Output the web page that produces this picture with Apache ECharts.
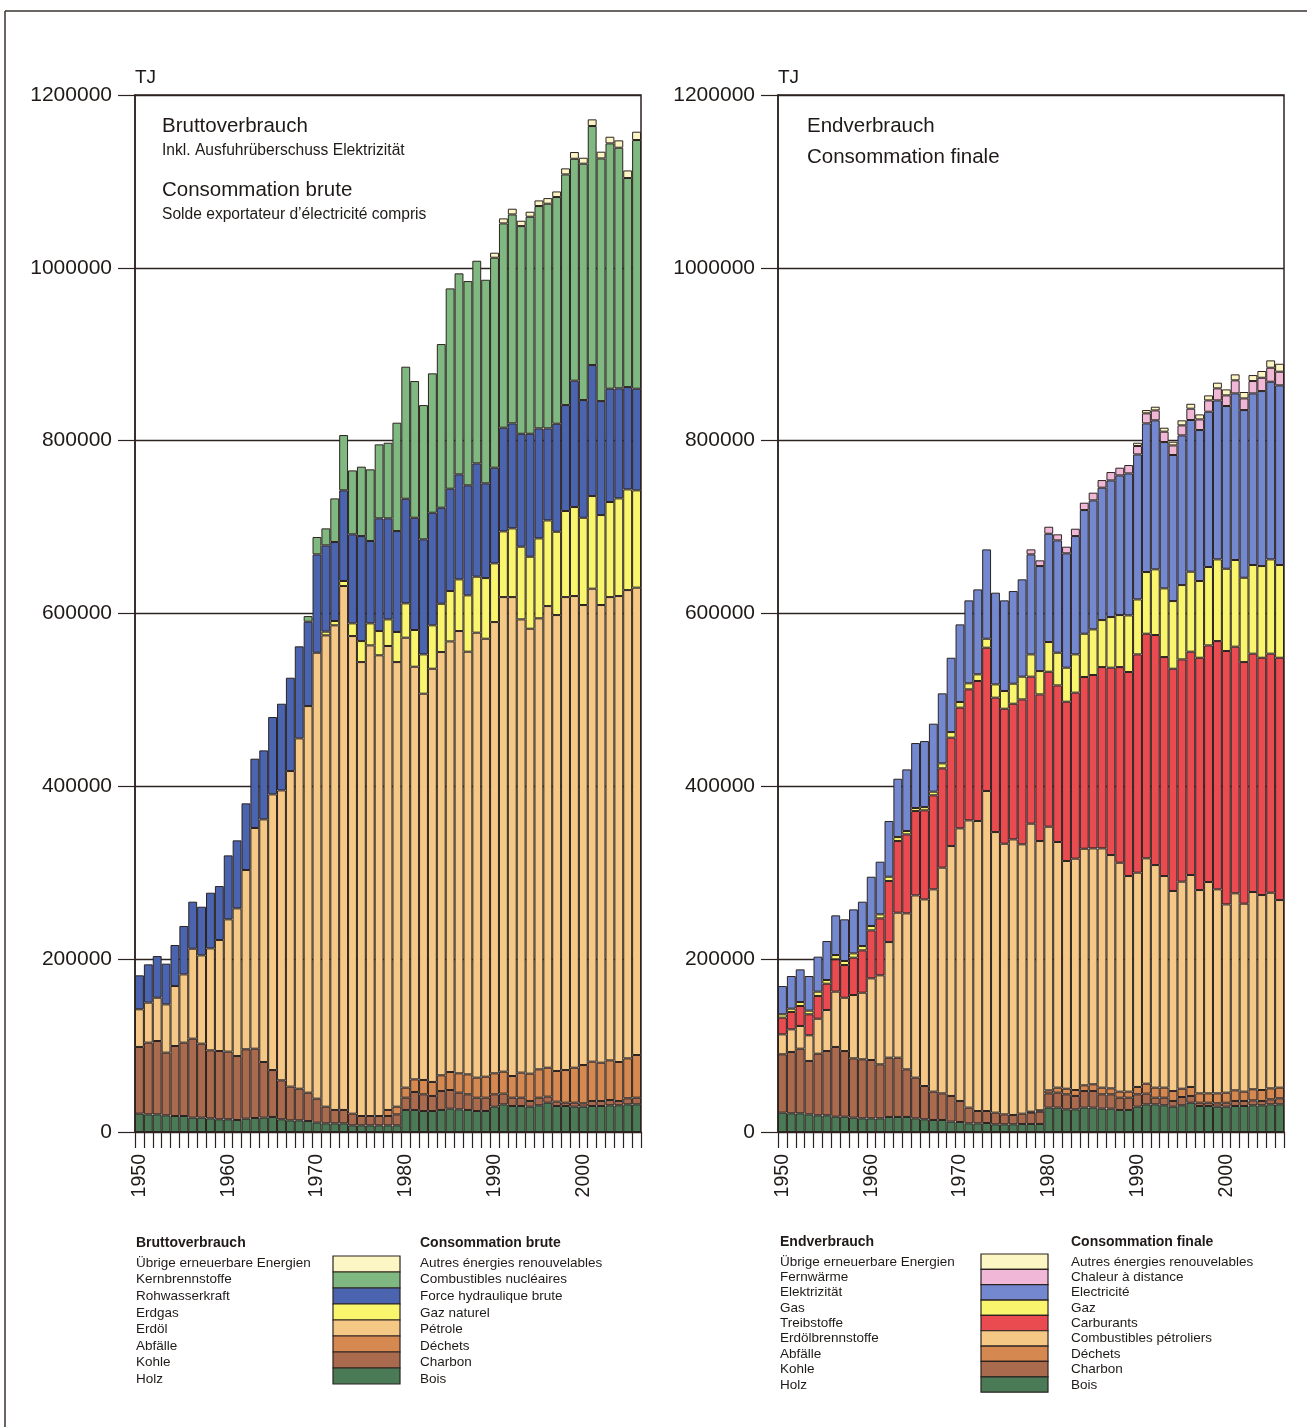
<!DOCTYPE html>
<html>
<head>
<meta charset="utf-8">
<script src="https://cdn.jsdelivr.net/npm/echarts/dist/echarts.min.js"></script>
<style>
  html, body { margin: 0; padding: 0; background: #fff; }
  #chart { width: 1307px; height: 1427px; }
</style>
</head>
<body>
<div id="chart"></div>
<script>
// Jahre 1950 - 2006
const years = [];
for (let y = 1950; y <= 2006; y++) years.push(String(y));

// --- Bruttoverbrauch (TJ), von unten nach oben ---
const holzL = [21200,20400,20400,19300,18500,18500,16600,16600,15800,14700,
  14700,13900,15400,16200,16600,17400,14700,13500,13500,12700,
  10800,10000,10000,10000,7700,7700,7700,7700,7700,7700,
  25500,25500,24300,24300,25500,27000,26200,25500,24300,24300,
  29300,32000,30100,30100,29300,30900,33900,30100,30100,29300,
  29300,30100,30100,30900,30900,32000,32000];
const kohleL = [77200,83000,84900,72500,81000,84900,91400,85600,78700,79000,
  78300,74000,80300,80200,64400,54300,45100,39000,36600,32800,
  27800,19300,15500,15500,13500,10800,10800,10800,10800,12700,
  14200,20800,19300,17400,21900,21600,19300,18100,15400,15400,
  14300,12400,9600,9600,6600,8800,7000,5000,3800,4600,
  3900,5800,5800,6100,5000,7000,7700];
const abfaelleL = [0,0,0,0,0,0,0,0,0,0,
  0,0,0,0,0,0,0,0,0,0,
  0,0,0,0,0,0,0,0,7000,8900,
  11600,14600,16600,16200,18200,20800,22400,23100,23200,24300,
  24300,25400,25100,29000,31600,32800,33500,35500,37800,40500,
  44300,45500,44300,45900,45100,46200,49400];
const erdoelL = [43600,46300,50100,55900,69400,79000,104100,102200,118000,128500,
  153100,170900,207500,255400,280800,319000,335500,365200,405400,447400,
  516000,545400,560800,606300,552700,525300,544600,533100,536900,514500,
  520700,477500,447000,478200,489800,498300,511800,489100,514900,506800,
  522200,549200,554200,524500,514900,521900,534200,527600,547300,545800,
  532300,547300,529600,536100,539200,541900,540800];
const erdgasL = [0,0,0,0,0,0,0,0,0,0,
  0,0,0,0,0,0,0,0,0,0,
  0,4300,5000,5800,14700,24300,25500,28100,30800,34800,
  39700,42500,45500,50200,55900,58300,59800,65200,64800,70200,
  67900,76000,79500,84100,83300,92500,99100,96400,99600,103000,
  101000,107200,104100,110000,113000,116500,112600];
const wasserL = [39300,44300,48200,47100,47500,56000,54400,56300,64400,62400,
  74000,78700,77100,80200,79800,89500,100300,108000,106500,97600,
  113800,99800,91400,104900,103000,121500,95300,130400,116900,116800,
  121100,129900,133100,130300,111100,118400,121500,127300,131100,109600,
  110700,120000,121500,130700,142300,127300,106500,125000,122600,146200,
  136200,151600,131900,131100,127300,118400,117600];
const kernL = [0,0,0,0,0,0,0,0,0,0,
  0,0,0,0,0,0,0,0,0,6500,
  20100,19700,50500,64000,74000,80300,82900,85600,87500,125400,
  152800,158200,155400,161300,189400,231800,232600,236400,234500,235600,
  243000,236400,241800,240300,251100,257300,260000,262300,266900,256800,
  273500,276600,280800,283900,278500,241900,287800];
const uebrigeL = [0,0,0,0,0,0,0,0,0,0,
  0,0,0,0,0,0,0,0,0,0,
  0,0,0,0,0,0,0,0,0,0,
  0,0,0,0,0,0,0,0,0,0,
  5800,5800,6600,6200,5800,6500,6500,6500,7000,7800,
  6900,7700,7800,7700,8500,8800,9600];

// --- Endverbrauch (TJ), von unten nach oben ---
const holzR = [22400,21600,21600,20400,19300,19300,17700,17700,16600,15800,
  15800,15800,17400,17400,17400,15800,14700,13900,13900,12000,
  11600,10000,10000,10400,8900,8900,8900,9300,9300,9300,
  28200,28200,26200,26200,28200,28200,27000,27000,25500,25500,
  29300,32000,32000,30900,29300,30900,33900,30100,30100,29300,
  29300,30100,30100,30900,30900,32000,32000];
const kohleR = [67500,71000,74800,61800,71300,74400,80700,76000,68600,68300,
  67500,62500,68600,68600,55100,47100,38500,32800,30800,29700,
  24300,18200,14300,13900,13500,11500,10800,11900,13100,14200,
  16500,17300,17400,15500,19200,19200,16600,16600,14200,14200,
  14300,12400,7700,8800,6600,9600,7800,3800,3800,3900,
  4600,5800,5800,5700,5000,5800,7000];
const abfaelleR = [0,0,0,0,0,0,0,0,0,0,
  0,0,0,0,0,0,0,0,0,0,
  0,0,0,0,0,0,0,0,1100,1600,
  3500,5800,6500,6900,6600,7800,7700,6900,7000,7000,
  8500,11500,11600,11600,11500,9600,10400,10800,10800,11500,
  11600,12300,10800,12800,12700,12700,12300];
const erdoelR = [23100,26200,26300,29700,40500,47500,64000,61700,73300,77100,
  94500,103000,133800,167800,180500,210900,216000,234100,261200,289200,
  315500,332400,335600,370300,324700,313200,318900,311700,333300,311600,
  305100,284300,263500,267700,273800,273000,276900,270000,264900,249500,
  248000,260800,257600,244900,231500,239600,245300,235300,244600,236100,
  217900,228000,217500,228300,225600,226400,217100];
const treibR = [19300,20100,23100,24300,26300,30400,37400,37800,43200,49000,
  55500,65900,70600,82900,91400,97600,103000,108800,114900,125400,
  139600,151600,162000,165800,155500,156200,157000,167700,170100,169700,
  179300,181200,184300,192100,198700,200600,209800,216800,226400,236100,
  252600,259900,266200,253400,257200,257200,258400,268800,273800,287300,
  293200,285400,279600,275800,274600,276600,280400];
const gasR = [3900,3800,4600,4200,5000,4300,5000,4700,5000,5000,
  5100,4700,5000,4600,3900,3500,3800,4200,5800,6500,
  6600,7000,7700,10400,15400,20500,23200,26300,25800,27000,
  34400,37800,39400,44300,50100,52800,54400,58600,60200,65500,
  63600,71400,76000,79500,78300,86000,92600,88800,90700,94500,
  95200,100300,97600,102600,106100,109100,107300];
const elekR = [32700,37800,37800,40100,40500,45100,45900,48200,50900,51300,
  57000,60900,64500,67500,71300,75200,76400,78700,81000,86000,
  89800,96000,98300,103400,106100,104900,107200,112600,115700,121500,
  125300,130000,132300,136900,143100,149300,153200,158100,161600,164300,
  167800,172000,172400,169300,169000,173200,175500,174700,179700,184000,
  188300,192800,194000,198600,202500,205600,207900];
const fernR = [0,0,0,0,0,0,0,0,0,0,
  0,0,0,0,0,0,0,0,0,0,
  0,0,0,0,0,0,0,0,5800,6600,
  8100,7000,7700,8500,8500,8900,8800,9700,8900,9700,
  9700,11600,11500,12000,11100,11600,13100,12300,13100,13900,
  12300,15100,13500,14300,15400,16200,15800];
const uebrigeR = [0,0,0,0,0,0,0,0,0,0,
  0,0,0,0,0,0,0,0,0,0,
  0,0,0,0,0,0,0,0,0,0,
  0,0,0,0,0,0,0,0,0,0,
  3800,3800,4300,4600,4300,5800,5700,5800,5800,6600,
  6900,6900,7400,6900,7800,8500,9200];

const INK = '#2c2320';
const FONT = "'Liberation Sans', Arial, sans-serif";

const listL = [
  { de: 'Holz', fr: 'Bois', data: holzL, color: '#4b7a56' },
  { de: 'Kohle', fr: 'Charbon', data: kohleL, color: '#a96a4e' },
  { de: 'Abfälle', fr: 'Déchets', data: abfaelleL, color: '#d5884f' },
  { de: 'Erdöl', fr: 'Pétrole', data: erdoelL, color: '#f5c886' },
  { de: 'Erdgas', fr: 'Gaz naturel', data: erdgasL, color: '#f9f56c' },
  { de: 'Rohwasserkraft', fr: 'Force hydraulique brute', data: wasserL, color: '#4b64af' },
  { de: 'Kernbrennstoffe', fr: 'Combustibles nucléaires', data: kernL, color: '#80b881' },
  { de: 'Übrige erneuerbare Energien', fr: 'Autres énergies renouvelables', data: uebrigeL, color: '#fcf6c4' }
];
const listR = [
  { de: 'Holz', fr: 'Bois', data: holzR, color: '#4b7a56' },
  { de: 'Kohle', fr: 'Charbon', data: kohleR, color: '#a96a4e' },
  { de: 'Abfälle', fr: 'Déchets', data: abfaelleR, color: '#d5884f' },
  { de: 'Erdölbrennstoffe', fr: 'Combustibles pétroliers', data: erdoelR, color: '#f5c886' },
  { de: 'Treibstoffe', fr: 'Carburants', data: treibR, color: '#e94b50' },
  { de: 'Gas', fr: 'Gaz', data: gasR, color: '#f9f56c' },
  { de: 'Elektrizität', fr: 'Electricité', data: elekR, color: '#7388cf' },
  { de: 'Fernwärme', fr: 'Chaleur à distance', data: fernR, color: '#f1b7d7' },
  { de: 'Übrige erneuerbare Energien', fr: 'Autres énergies renouvelables', data: uebrigeR, color: '#fcf6c4' }
];

function bars(list, idx) {
  return list.map(s => ({
    name: s.de + idx,
    type: 'bar',
    stack: 'st' + idx,
    xAxisIndex: idx,
    yAxisIndex: idx,
    barCategoryGap: '0%',
    data: s.data.map(v => (v === 0 ? null : v)),
    itemStyle: { color: s.color, borderColor: INK, borderWidth: 1 },
    silent: true
  }));
}

function xAx(idx) {
  return {
    type: 'category', gridIndex: idx, data: years,
    axisLine: { lineStyle: { color: INK, width: 1.5 } },
    axisTick: { show: true, interval: 0, length: 16, lineStyle: { color: INK, width: 1.2 } },
    axisLabel: {
      interval: (i) => i % 10 === 0,
      rotate: 90, margin: 22, fontSize: 19.5, color: '#1f1a18', fontFamily: FONT
    },
    splitLine: { show: false }
  };
}
function yAx(idx) {
  return {
    type: 'value', gridIndex: idx, min: 0, max: 1200000, interval: 200000,
    name: 'TJ', nameLocation: 'end', nameGap: 8,
    nameTextStyle: { fontSize: 19, color: '#1f1a18', fontFamily: FONT, align: 'left' },
    axisLine: { show: true, lineStyle: { color: INK, width: 1.5 } },
    axisTick: { show: true, length: 17, lineStyle: { color: INK, width: 1.2 } },
    axisLabel: { margin: 23, fontSize: 21, color: '#1f1a18', fontFamily: FONT, formatter: (v) => String(v) },
    splitLine: { show: true, lineStyle: { color: INK, width: 1.3 } }
  };
}

function txt(x, y, s, size, bold) {
  return {
    type: 'text', x: x, y: y, silent: true,
    style: {
      text: s, fill: '#1f1a18',
      font: (bold ? 'bold ' : '') + size + 'px ' + FONT,
      textVerticalAlign: 'middle', verticalAlign: 'middle'
    }
  };
}

function legendBlock(list, xDe, xSw, wSw, xFr, headDe, headFr, yHead, yTxt, stepT, ySw, stepS) {
  const out = [txt(xDe, yHead, headDe, 14, true), txt(xFr, yHead, headFr, 14, true)];
  const top = list.slice().reverse();
  top.forEach((s, k) => {
    out.push(txt(xDe, yTxt + k * stepT, s.de, 13.5, false));
    out.push(txt(xFr, yTxt + k * stepT, s.fr, 13.5, false));
    out.push({
      type: 'rect', silent: true,
      shape: { x: xSw, y: ySw + k * stepS, width: wSw, height: stepS },
      style: { fill: s.color, stroke: INK, lineWidth: 1.2 }
    });
  });
  return out;
}

const graphics = [
  { type: 'line', silent: true, shape: { x1: 5, y1: 11, x2: 1307, y2: 11 }, style: { stroke: '#3a3330', lineWidth: 1.5 } },
  { type: 'line', silent: true, shape: { x1: 5, y1: 11, x2: 5, y2: 1427 }, style: { stroke: '#3a3330', lineWidth: 1.5 } },
  txt(162, 126, 'Bruttoverbrauch', 20.5, false),
  txt(162, 151, 'Inkl. Ausfuhrüberschuss Elektrizität', 15.6, false),
  txt(162, 190, 'Consommation brute', 20.5, false),
  txt(162, 215, 'Solde exportateur d’électricité compris', 15.6, false),
  txt(807, 126, 'Endverbrauch', 20.5, false),
  txt(807, 157, 'Consommation finale', 20.5, false)
].concat(
  legendBlock(listL, 136, 333, 67, 420, 'Bruttoverbrauch', 'Consommation brute', 1243, 1263, 16.6, 1256, 16),
  legendBlock(listR, 780, 981, 67, 1071, 'Endverbrauch', 'Consommation finale', 1242, 1262, 15.35, 1254, 15.35)
);

const chart = echarts.init(document.getElementById('chart'), null, { renderer: 'canvas' });
chart.setOption({
  animation: false,
  backgroundColor: '#ffffff',
  grid: [
    { left: 135, top: 95, width: 506, height: 1037, show: true, borderColor: INK, borderWidth: 1.5, backgroundColor: 'transparent' },
    { left: 778, top: 95, width: 506, height: 1037, show: true, borderColor: INK, borderWidth: 1.5, backgroundColor: 'transparent' }
  ],
  xAxis: [xAx(0), xAx(1)],
  yAxis: [yAx(0), yAx(1)],
  series: bars(listL, 0).concat(bars(listR, 1)),
  graphic: graphics
});
</script>
</body>
</html>
